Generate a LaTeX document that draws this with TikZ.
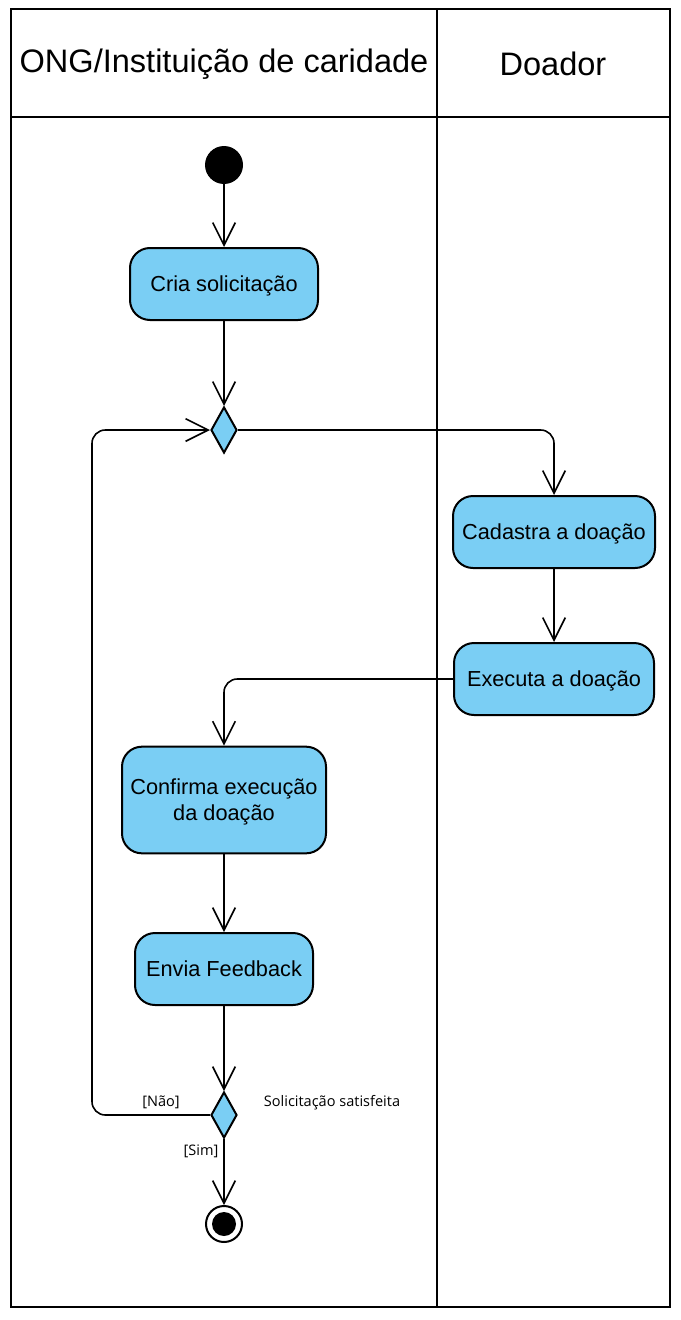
\documentclass[tikz,border=0pt]{standalone}
\usepackage{fontspec}
\setmainfont{Liberation Sans}
\newfontfamily\labelfont{Open Sans}
\usetikzlibrary{arrows.meta,shapes.geometric}
\definecolor{actblue}{HTML}{7ACEF4}
\tikzset{
  act/.style={draw=black, line width=1.5pt, fill=actblue, rounded corners=15pt, align=center, inner sep=0pt, text depth=0pt, font=\fontsize{16.3}{19.5}\selectfont},
  dec/.style={draw=black, line width=1.5pt, fill=actblue, diamond, inner sep=0pt, minimum width=19.5pt, minimum height=34.5pt},
  flow/.style={line width=1.2pt, -{Straight Barb[length=17pt,width=17pt,line width=1.2pt]}},
  lane/.style={draw=black, line width=1.5pt},
  hdr/.style={font=\fontsize{24.4}{28}\selectfont},
  lbl/.style={font=\labelfont\fontsize{10.9}{12}\selectfont, inner sep=0pt}
}
\begin{document}
\begin{tikzpicture}[x=0.75pt,y=-0.75pt]
\useasboundingbox (0,0) rectangle (681,1320);
% swimlanes
\draw[lane] (11,9) rectangle (670,1307);
\draw[lane] (11,117) -- (670,117);
\draw[lane] (437,9) -- (437,1307);
\node[hdr] (h1) at (224,64) {ONG/Instituição de caridade};
\node[hdr] (h2) at (553,64) {Doador};
% nodes
\node[circle, fill=black, minimum size=28.5pt, inner sep=0pt] (init) at (224,165) {};
\node[act, minimum width=141pt, minimum height=54pt] (cria) at (224,284) {Cria solicitação};
\node[dec] (d1) at (224,430) {};
\node[act, minimum width=151.5pt, minimum height=54pt] (cad) at (554,532) {Cadastra a doação};
\node[act, minimum width=150pt, minimum height=54pt] (exe) at (554,679) {Executa a doação};
\node[act, minimum width=153pt, minimum height=80pt] (conf) at (224,800) {Confirma execução\\da doação};
\node[act, minimum width=133.5pt, minimum height=54pt] (env) at (224,969) {Envia Feedback};
\node[dec] (d2) at (224,1115) {};
\node[circle, draw=black, line width=1.5pt, fill=white, minimum size=27pt, inner sep=0pt] (fin) at (224,1224) {};
\node[circle, fill=black, minimum size=18pt, inner sep=0pt] (fincore) at (fin.center) {};
% labels
\node[lbl] (lnao) at (161,1102) {[Não]};
\node[lbl] (lsat) at (332,1103) {Solicitação satisfeita};
\node[lbl] (lsim) at (201,1151) {[Sim]};
% loop coordinates
\coordinate (lb) at (92,1115);
\coordinate (lt) at (92,430);
% edges
\draw[flow] (init.south) -- (cria.north);
\draw[flow] (cria.south) -- (d1.north);
\draw[flow, rounded corners=10pt] (d1.east) -| (cad.north);
\draw[flow] (cad.south) -- (exe.north);
\draw[flow, rounded corners=10pt] (exe.west) -| (conf.north);
\draw[flow] (conf.south) -- (env.north);
\draw[flow] (env.south) -- (d2.north);
\draw[flow] (d2.south) -- (fin.north);
\draw[flow, rounded corners=10pt] (d2.west) -- (lb) -- (lt) -- (d1.west);
\end{tikzpicture}
\end{document}
